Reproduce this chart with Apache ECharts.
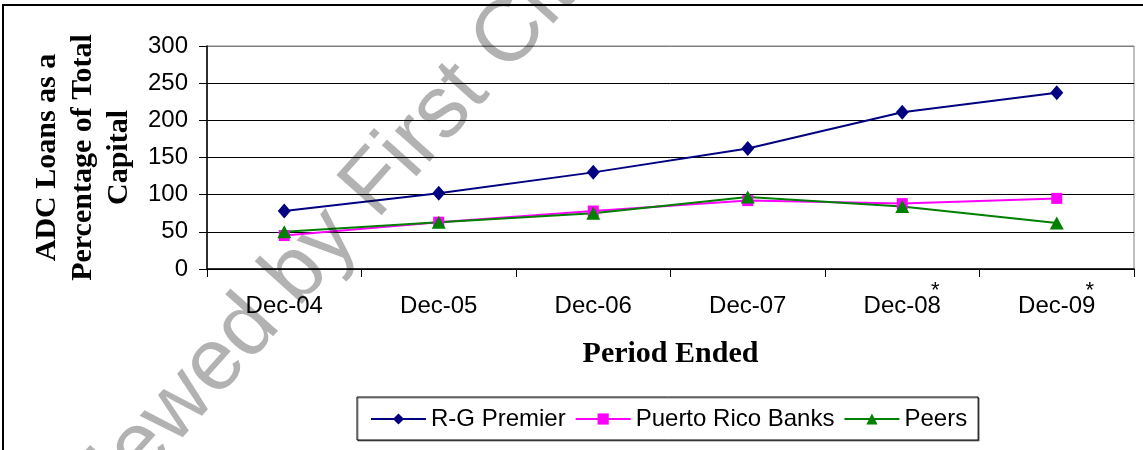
<!DOCTYPE html>
<html>
<head>
<meta charset="utf-8">
<script src="https://cdn.jsdelivr.net/npm/echarts@6/dist/echarts.min.js"></script>
<style>
  html, body { margin: 0; padding: 0; background: #fff; }
  #chart { width: 1143px; height: 450px; }
</style>
</head>
<body>
<div id="chart"></div>
<script>
  // values
  const periods = ['Dec-04', 'Dec-05', 'Dec-06', 'Dec-07', 'Dec-08', 'Dec-09']
  const starred = ['Dec-08', 'Dec-09']
  const rgPremier = [78, 102, 130, 162, 211, 237]
  const puertoRico = [45, 63, 78, 92, 88, 95]
  const peers = [50, 63, 75, 97, 84, 62]
  const yTicks = [0, 50, 100, 150, 200, 250, 300]

  const sans = 'Liberation Sans'
  const serif = 'Liberation Serif'

  const chart = echarts.init(document.getElementById('chart'), null, {renderer: 'canvas'})

  chart.setOption({
    animation: false,
    backgroundColor: '#fff',
    grid: {
      left: 207, right: 9, top: 46, bottom: 181,
      show: true, borderColor: '#808080', borderWidth: 1, backgroundColor: 'transparent'
    },
    legend: {
      left: 357, top: 397,
      padding: [10, 11, 9, 13],
      itemGap: 9, itemWidth: 55, itemHeight: 14,
      borderColor: '#000', borderWidth: 1, backgroundColor: '#fff',
      shadowColor: 'rgba(0,0,0,0.45)', shadowOffsetY: 1, shadowOffsetX: 1,
      textStyle: {fontFamily: sans, fontSize: 24, color: '#000'},
      data: ['R-G Premier', 'Puerto Rico Banks', 'Peers']
    },
    xAxis: {
      type: 'category',
      data: periods,
      boundaryGap: true,
      name: 'Period Ended',
      nameLocation: 'middle',
      nameGap: 70,
      nameTextStyle: {fontFamily: serif, fontWeight: 'bold', fontSize: 30, color: '#000'},
      axisLine: {lineStyle: {color: '#000', width: 1.5}},
      axisTick: {show: true, length: 8, lineStyle: {color: '#000'}},
      axisLabel: {fontFamily: sans, fontSize: 24, color: '#000', margin: 25},
      splitLine: {show: false}
    },
    yAxis: {
      type: 'value',
      min: yTicks[0],
      max: yTicks[yTicks.length - 1],
      interval: 50,
      name: 'ADC Loans as a\nPercentage of Total\nCapital',
      nameLocation: 'middle',
      nameRotate: 90,
      nameGap: 69,
      nameTextStyle: {fontFamily: serif, fontWeight: 'bold', fontSize: 30, lineHeight: 36, color: '#000'},
      axisLine: {show: true, lineStyle: {color: '#000', width: 1.5}},
      axisTick: {show: true, length: 8, lineStyle: {color: '#000'}},
      axisLabel: {fontFamily: sans, fontSize: 24, color: '#000', margin: 19},
      splitLine: {show: true, lineStyle: {color: ['#000', '#000', '#000', '#000', '#000', '#000', '#808080'], width: 1}}
    },
    series: [{
      name: 'R-G Premier',
      type: 'line',
      data: rgPremier,
      symbol: 'diamond',
      symbolSize: [13, 15],
      lineStyle: {color: '#000080', width: 2},
      itemStyle: {color: '#000080'}
    }, {
      name: 'Puerto Rico Banks',
      type: 'line',
      data: puertoRico,
      symbol: 'rect',
      symbolSize: 11,
      lineStyle: {color: '#ff00ff', width: 2},
      itemStyle: {color: '#ff00ff'}
    }, {
      name: 'Peers',
      type: 'line',
      data: peers,
      symbol: 'triangle',
      symbolSize: [14, 13],
      lineStyle: {color: '#008000', width: 2},
      itemStyle: {color: '#008000'}
    }]
  })

  // outer frame, watermark and the asterisks over the last two labels
  let graphics = [{
    type: 'rect',
    id: 'frame',
    shape: {x: 3, y: 5, width: 1200, height: 500},
    style: {fill: 'none', stroke: '#000', lineWidth: 2},
    silent: true
  }, {
    type: 'text',
    id: 'watermark',
    x: 352, y: 212,
    rotation: 0.84,
    style: {
      text: 'Reviewed by First Citizens',
      font: '88px "Liberation Sans"',
      fill: 'rgba(0,0,0,0.3)',
      align: 'center',
      verticalAlign: 'middle'
    },
    z: 100,
    silent: true
  }]
  starred.forEach(function (p, i) {
    let px = chart.convertToPixel({xAxisIndex: 0}, p)
    graphics.push({
      type: 'text',
      id: 'star' + i,
      x: px + 33, y: 291,
      style: {text: '*', font: '22px "Liberation Sans"', fill: '#000', align: 'center', verticalAlign: 'middle'},
      silent: true
    })
  })
  chart.setOption({graphic: graphics})
</script>
</body>
</html>
